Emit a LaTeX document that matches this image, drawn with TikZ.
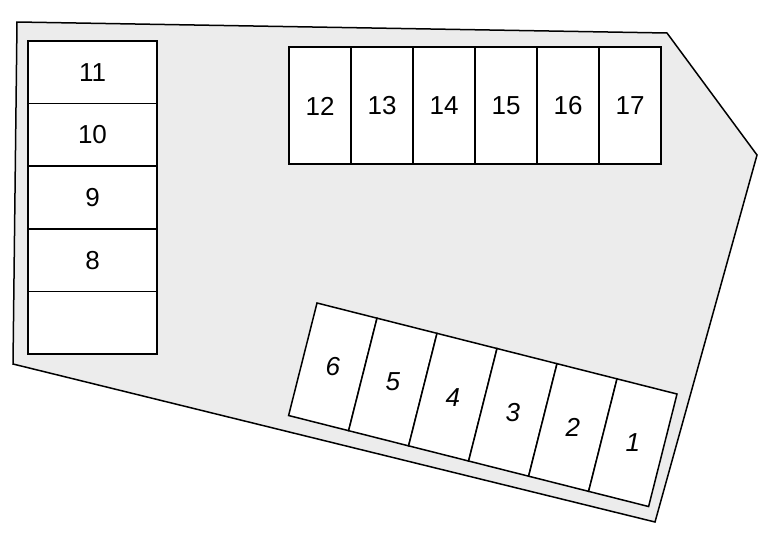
\documentclass[tikz,border=0pt]{standalone}
\usepackage{fontspec}
\setmainfont{Liberation Sans}
\usetikzlibrary{calc}
\definecolor{lot}{HTML}{ECECEC}
\begin{document}
\begin{tikzpicture}[x=1pt,y=-1pt,
  cell/.style={draw=black,fill=white,line width=1.5pt},
  lbl/.style={font=\fontsize{26}{30}\selectfont,inner sep=0pt}]
\useasboundingbox (0,0) rectangle (767,538);
\draw[fill=lot,line width=1.5pt] (17,22) -- (667,33) -- (757,155) -- (655,522) -- (13,364) -- cycle;
% left column
\foreach \i/\t in {0/11,1/10,2/9,3/8,4/{}}{
  \draw[cell] (28,{41+62.6*\i}) rectangle (157,{41+62.6*(\i+1)});
  \node[lbl] (l\i) at (92.5,{41+62.6*(\i+0.5)}) {\t};
}
% top row
\foreach \i/\t in {0/12,1/13,2/14,3/15,4/16,5/17}{
  \draw[cell] ({289+62*\i},47) rectangle ({289+62*(\i+1)},164);
  \node[lbl] (t\i) at ({289+62*(\i+0.5)},106) {\t};
}
% rotated row
\coordinate (O) at (317,303);
\coordinate (u) at (60.0,15.17);
\coordinate (v) at (-28.4,112.5);
\foreach \i/\t in {0/6,1/5,2/4,3/3,4/2,5/1}{
  \draw[cell] ($(O)+\i*(u)$) -- ($(O)+{\i+1}*(u)$) -- ($(O)+{\i+1}*(u)+(v)$) -- ($(O)+\i*(u)+(v)$) -- cycle;
  \node[lbl,font=\fontsize{26}{30}\selectfont\itshape] (r\i) at ($(O)+{\i+0.5}*(u)+0.5*(v)$) {\t};
}
\end{tikzpicture}
\end{document}
